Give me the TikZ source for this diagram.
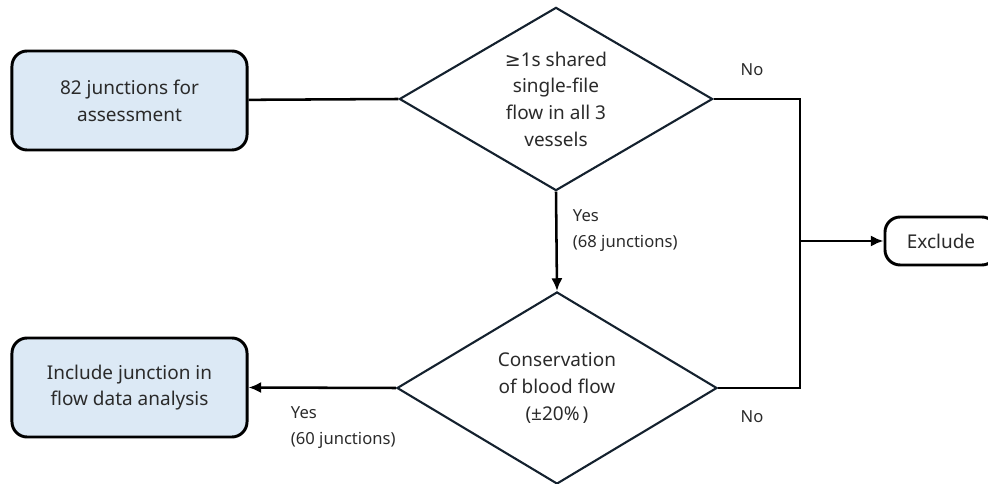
\documentclass[tikz,border=0pt]{standalone}
\usepackage{fontspec}
\setmainfont{Noto Sans}
\newfontfamily\symfont{DejaVu Sans}
\usepackage{tikz}
\usetikzlibrary{shapes.geometric,positioning,arrows.meta}
\definecolor{boxblue}{HTML}{DCE9F5}
\definecolor{textgray}{HTML}{2A2A2A}
\definecolor{edgenavy}{HTML}{14212E}

\begin{document}
\begin{tikzpicture}[
    x=0.025cm, y=-0.025cm,
    box/.style={draw, line width=2.1pt, rounded corners=0.38cm, fill=boxblue, minimum width=5.875cm, minimum height=2.475cm, align=center, text=textgray, font=\fontsize{13.5}{19}\selectfont},
    decision/.style={draw=edgenavy, line width=1.5pt, diamond, inner sep=-10pt, align=center, text=textgray, font=\fontsize{13.5}{19}\selectfont},
    label/.style={align=left, text=textgray, font=\fontsize{11.8}{18}\selectfont},
    line/.style={line width=1.8pt},
    arrow/.style={line, -{Latex[length=9pt, width=8pt]}},
]
\useasboundingbox (0,0) rectangle (988,484);

\node[box] (start) at (129.5,100.5) {82 junctions for\\assessment};
\node[decision, minimum width=7.83cm, minimum height=4.58cm] (shared) at (556,99) {{\symfont ≥}1s shared\\single-file\\flow in all 3\\vessels};
\node[decision, minimum width=8cm, minimum height=4.8cm] (conserve) at (557,388) {Conservation\\of blood flow\\(±20\%\,)};
\node[box] (include) at (129.5,387.5) {Include junction in\\flow data analysis};
\node[box, fill=white, minimum width=2.8cm, minimum height=1.2cm] (exclude) at (941,241) {Exclude};
\coordinate (split) at (800,241);

\draw[line] (start) -- (shared.west);
\draw[arrow] (shared.south) -- (conserve.north);
\draw[arrow] (conserve.west) -- (include.east);
\draw[line] (shared.east) -| (split);
\draw[line] (conserve.east) -| (split);
\draw[arrow] (split) -- (exclude.west);

\node[label] at (752,70) {No};
\node[label] at (752,417) {No};
\node[label, anchor=north west] at (568,205) {Yes\\(68 junctions)};
\node[label, anchor=north west] at (286,402) {Yes\\(60 junctions)};
\end{tikzpicture}
\end{document}
